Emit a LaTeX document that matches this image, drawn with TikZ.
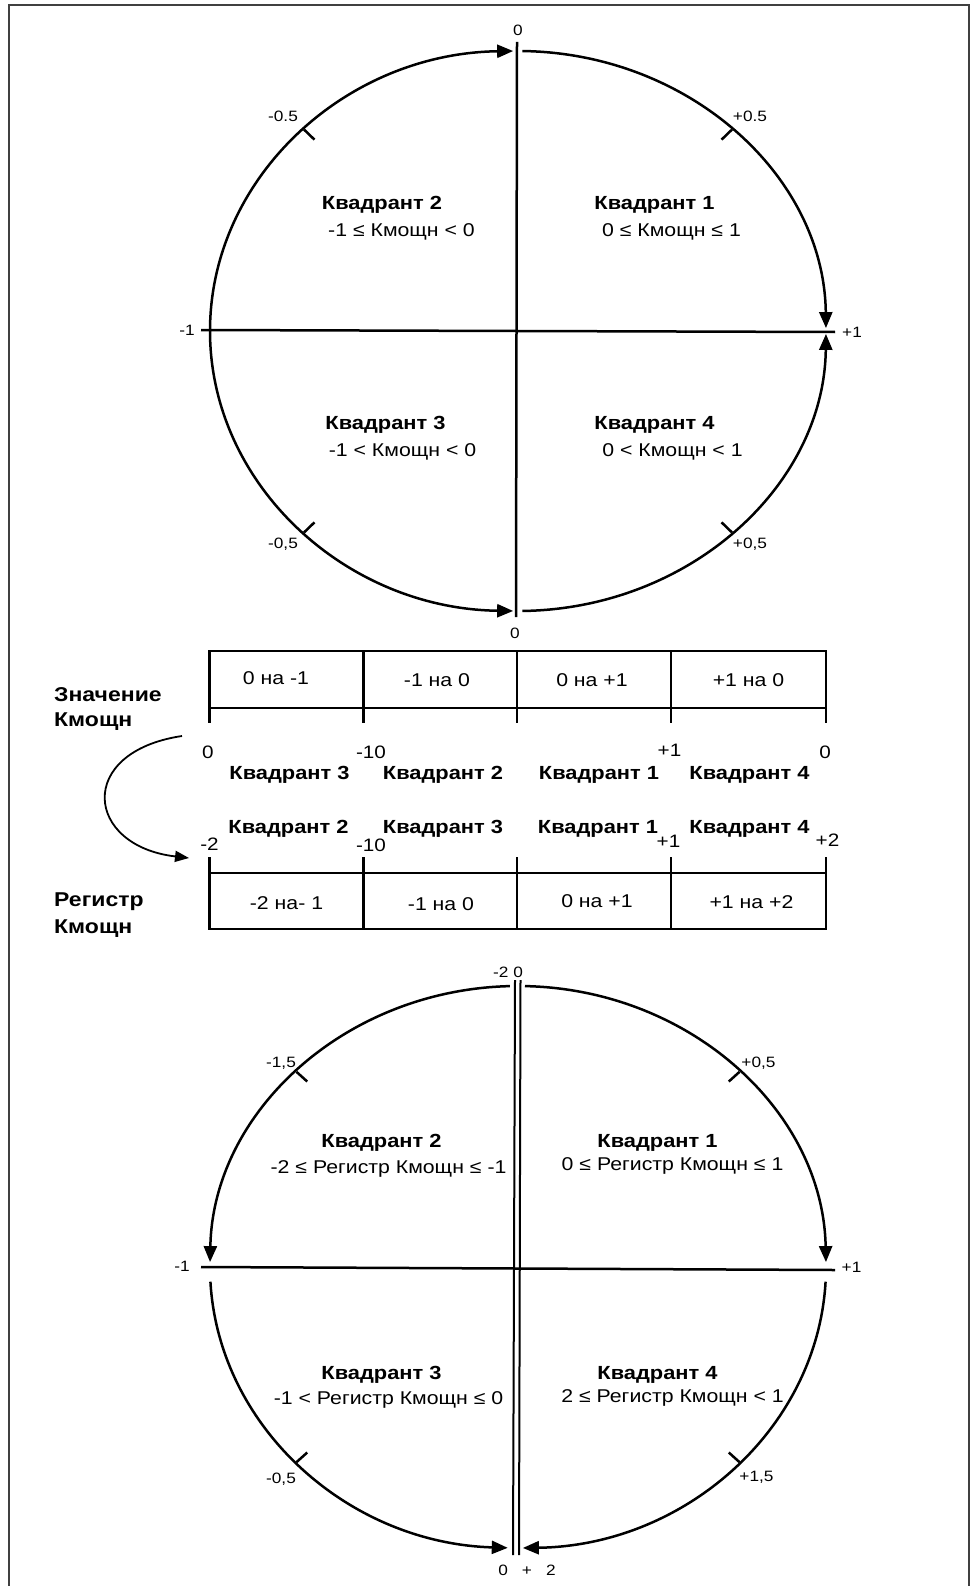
\documentclass[tikz,border=0pt]{standalone}
\usepackage{fontspec}
\setmainfont{Liberation Sans}[FakeStretch=1.15]
\usetikzlibrary{arrows.meta,calc}
\begin{document}
\begin{tikzpicture}[x=1pt,y=1pt,
  ln/.style={line width=2.5pt},
  tb/.style={line width=2.2pt},
  arr/.style={line width=2.5pt,-{Triangle[length=16pt,width=13pt]}},
  lab/.style={font=\fontsize{15}{17}\selectfont, inner sep=0pt},
  qh/.style={font=\bfseries\fontsize{19}{22}\selectfont, inner sep=0pt, yshift=-3pt},
  qt/.style={font=\fontsize{18.5}{22}\selectfont, inner sep=0pt, yshift=-2pt},
  cell/.style={font=\fontsize{18.5}{22}\selectfont, inner sep=0pt},
  num/.style={font=\fontsize{18}{22}\selectfont, inner sep=0pt},
  side/.style={font=\bfseries\fontsize{20}{24}\selectfont, inner sep=0pt, anchor=west, yshift=-2pt},
]
\useasboundingbox (0,0) rectangle (971,-1586);
\draw[black!75, line width=2pt] (9,-1600) -- (9,-5) -- (969,-5) -- (969,-1600);

% ---------- top ellipse ----------
\coordinate (A) at (518,-331);
\draw[arr] ([shift={(180:308 and 280)}]A) arc[start angle=180,end angle=90.9,x radius=308,y radius=280];
\draw[arr] ([shift={(89.2:308 and 280)}]A) arc[start angle=89.2,end angle=0.6,x radius=308,y radius=280];
\draw[arr] ([shift={(270.8:308 and 280)}]A) arc[start angle=270.8,end angle=359.4,x radius=308,y radius=280];
\draw[arr] ([shift={(180:308 and 280)}]A) arc[start angle=180,end angle=269.1,x radius=308,y radius=280];
\coordinate (Av1) at (517,-42); \coordinate (Av2) at (516,-617);
\coordinate (Ah1) at (201,-330); \coordinate (Ah2) at (835,-332);
\draw[ln] (Av1) -- (Av2);
\draw[ln] (Ah1) -- (Ah2);
\foreach \a in {134,46,226,314}{
  \draw[ln] ([shift={(\a:308 and 280)}]A) -- ([shift={(\a:293 and 266)}]A);
}
\node[lab] (a0t) at (518,-30) {0};
\node[lab] (a05l) at (283,-116) {-0.5};
\node[lab] (a05r) at (750,-116) {+0.5};
\node[lab] (a1l) at (187,-330) {-1};
\node[lab] (a1r) at (852,-332) {+1};
\node[lab] (a05bl) at (283,-544) {-0,5};
\node[lab] (a05br) at (750,-544) {+0,5};
\node[lab] (a0b) at (515,-633) {0};

\node[qh] (q2h) at (382,-202) {Квадрант 2};
\node[qt] (q2t) at (401.5,-229.5) {-1 ≤ Кмощн < 0};
\node[qh] (q1h) at (654.5,-202) {Квадрант 1};
\node[qt] (q1t) at (671.5,-229.5) {0 ≤ Кмощн ≤ 1};
\node[qh] (q3h) at (385.5,-421.5) {Квадрант 3};
\node[qt] (q3t) at (402.5,-450) {-1 < Кмощн < 0};
\node[qh] (q4h) at (654.5,-421.5) {Квадрант 4};
\node[qt] (q4t) at (672.5,-450) {0 < Кмощн < 1};

% ---------- middle tables ----------
\draw[tb] (209.5,-651) rectangle (826,-708);
\foreach \x in {363.5,517,671}{\draw[tb] (\x,-651) -- (\x,-708);}
\foreach \x in {209.5,363.5,517,671,826}{\draw[tb] (\x,-708) -- (\x,-723);}
\node[cell] (c11) at (276,-678) {0 на -1};
\node[cell] (c12) at (437,-680) {-1 на 0};
\node[cell] (c13) at (592,-680) {0 на +1};
\node[cell] (c14) at (748.5,-680) {+1 на 0};

\node[side] (s1) at (54,-693) {Значение};
\node[side] (s2) at (54,-720) {Кмощн};

\node[num] (n1) at (208,-752) {0};
\node[num] (n2) at (371,-752) {-10};
\node[num] (n3) at (669.5,-750.5) {+1};
\node[num] (n4) at (825,-752) {0};

\node[qh] (m1) at (289.5,-772) {Квадрант 3};
\node[qh] (m2) at (443,-772) {Квадрант 2};
\node[qh] (m3) at (599,-772) {Квадрант 1};
\node[qh] (m4) at (749.5,-772) {Квадрант 4};

\node[qh] (k1) at (288.5,-826) {Квадрант 2};
\node[qh] (k2) at (443,-826) {Квадрант 3};
\node[qh] (k3) at (598,-826) {Квадрант 1};
\node[qh] (k4) at (749.5,-826) {Квадрант 4};

\node[num] (p1) at (209.5,-844.5) {-2};
\node[num] (p2) at (371,-845.5) {-10};
\node[num] (p3) at (668.5,-841.5) {+1};
\node[num] (p4) at (827.5,-840.5) {+2};

\draw[tb] (209.5,-873) rectangle (826,-929);
\foreach \x in {363.5,517,671}{\draw[tb] (\x,-873) -- (\x,-929);}
\foreach \x in {209.5,363.5,517,671,826}{\draw[tb] (\x,-857) -- (\x,-873);}
\node[cell] (d11) at (286.5,-903) {-2 на- 1};
\node[cell] (d12) at (441,-904) {-1 на 0};
\node[cell] (d13) at (597,-901) {0 на +1};
\node[cell] (d14) at (751.5,-902) {+1 на +2};

\node[side] (s3) at (54,-900) {Регистр};
\node[side] (s4) at (54,-926.5) {Кмощн};

\coordinate (cs) at (182,-736);
\coordinate (ce) at (189,-858);
\draw[line width=1.8pt,-{Triangle[length=14pt,width=11pt]}] (cs) .. controls (75,-752) and (85,-846) .. (ce);

% ---------- bottom ellipse ----------
\coordinate (B) at (518,-1267);
\draw[arr] ([shift={(91.5:308 and 281)}]B) arc[start angle=91.5,end angle=179,x radius=308,y radius=281];
\draw[arr] ([shift={(88.7:308 and 281)}]B) arc[start angle=88.7,end angle=1,x radius=308,y radius=281];
\draw[arr] ([shift={(183:308 and 281)}]B) arc[start angle=183,end angle=268.1,x radius=308,y radius=281];
\draw[arr] ([shift={(357:308 and 281)}]B) arc[start angle=357,end angle=270.9,x radius=308,y radius=281];
\coordinate (Bv1) at (515,-980); \coordinate (Bv2) at (513,-1555);
\coordinate (Bw1) at (520.5,-980); \coordinate (Bw2) at (519,-1555);
\coordinate (Bh1) at (201,-1267); \coordinate (Bh2) at (835,-1270);
\draw[line width=2pt] (Bv1) -- (Bv2);
\draw[line width=2pt] (Bw1) -- (Bw2);
\draw[ln] (Bh1) -- (Bh2);
\foreach \a in {136,44,224,316}{
  \draw[ln] ([shift={(\a:308 and 281)}]B) -- ([shift={(\a:293 and 267)}]B);
}
\node[lab] (b20) at (508,-972) {-2 0};
\node[lab] (b15l) at (281,-1063) {-1,5};
\node[lab] (b05r) at (758.5,-1063) {+0,5};
\node[lab] (b1l) at (182,-1266.5) {-1};
\node[lab] (b1r) at (851.5,-1267.5) {+1};
\node[lab] (b05l) at (281,-1479) {-0,5};
\node[lab] (b15r) at (756.5,-1477) {+1,5};
\node[lab] (b02) at (527,-1570) {0\hspace{14pt}+\hspace{14pt}2};

\node[qh] (r2h) at (381.5,-1140) {Квадрант 2};
\node[qt] (r2t) at (388.5,-1166.5) {-2 ≤ Регистр Кмощн ≤ -1};
\node[qh] (r1h) at (657.5,-1140) {Квадрант 1};
\node[qt] (r1t) at (672.5,-1164) {0 ≤ Регистр Кмощн ≤ 1};
\node[qh] (r3h) at (381.5,-1371.5) {Квадрант 3};
\node[qt] (r3t) at (388.5,-1398) {-1 < Регистр Кмощн ≤ 0};
\node[qh] (r4h) at (657.5,-1371.5) {Квадрант 4};
\node[qt] (r4t) at (672.5,-1396) {2 ≤ Регистр Кмощн < 1};
\end{tikzpicture}
\end{document}
